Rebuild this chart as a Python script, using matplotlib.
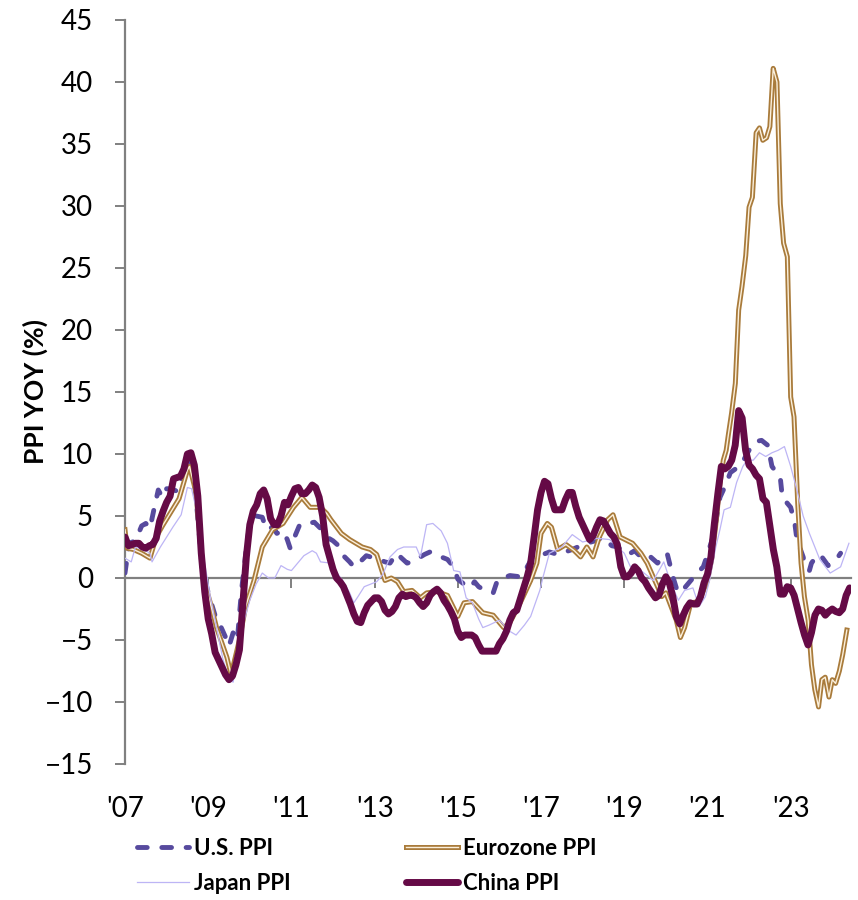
import numpy as np
import matplotlib
matplotlib.use("Agg")
import matplotlib.pyplot as plt
import matplotlib.patheffects as pe

plt.rcParams['font.family'] = ['Lato', 'DejaVu Sans']

# China PPI, monthly from Jan 2007
china_ppi = [
    3.3, 2.6, 2.7, 2.8, 2.8, 2.5, 2.4, 2.6, 2.7, 3.2, 4.6, 5.4,
    6.1, 6.6, 8.0, 8.1, 8.2, 8.8, 10.0, 10.1, 9.1, 6.6, 2.0, -1.1,
    -3.3, -4.5, -6.0, -6.6, -7.2, -7.8, -8.2, -7.9, -7.0, -5.8, -2.1, 1.7,
    4.3, 5.4, 5.9, 6.8, 7.1, 6.4, 4.8, 4.3, 4.3, 5.0, 6.1, 5.9,
    6.6, 7.2, 7.3, 6.8, 6.8, 7.1, 7.5, 7.3, 6.5, 5.0, 2.7, 1.7,
    0.7, 0.0, -0.3, -0.7, -1.4, -2.1, -2.9, -3.5, -3.6, -2.8, -2.2, -1.9,
    -1.6, -1.6, -1.9, -2.6, -2.9, -2.7, -2.3, -1.6, -1.3, -1.5, -1.4, -1.4,
    -1.6, -2.0, -2.3, -2.0, -1.4, -1.1, -0.9, -1.2, -1.8, -2.2, -2.7, -3.3,
    -4.3, -4.8, -4.6, -4.6, -4.6, -4.8, -5.4, -5.9, -5.9, -5.9, -5.9, -5.9,
    -5.3, -4.9, -4.3, -3.4, -2.8, -2.6, -1.7, -0.8, 0.1, 1.2, 3.3, 5.5,
    6.9, 7.8, 7.6, 6.4, 5.5, 5.5, 5.5, 6.3, 6.9, 6.9, 5.8, 4.9,
    4.3, 3.7, 3.1, 3.4, 4.1, 4.7, 4.6, 4.1, 3.6, 3.3, 2.7, 0.9,
    0.1, 0.1, 0.4, 0.9, 0.6, 0.0, -0.3, -0.8, -1.2, -1.6, -1.4, -0.5,
    0.1, -0.4, -1.5, -3.1, -3.7, -3.0, -2.4, -2.0, -2.1, -2.1, -1.5, -0.4,
    0.3, 1.7, 4.4, 6.8, 9.0, 8.8, 9.0, 9.5, 10.7, 13.5, 12.9, 10.3,
    9.1, 8.8, 8.3, 8.0, 6.4, 6.1, 4.2, 2.3, 0.9, -1.3, -1.3, -0.7,
    -0.8, -1.4, -2.5, -3.6, -4.6, -5.4, -4.4, -3.0, -2.5, -2.6, -3.0, -2.7,
    -2.5, -2.7, -2.8, -2.5, -1.4, -0.8,
]
china_t = [2007 + i / 12 for i in range(len(china_ppi))]

# U.S. PPI (decimal year, %)
us_t = [2007.0, 2007.1, 2007.25, 2007.4, 2007.5, 2007.6, 2007.7, 2007.8, 2007.9, 2008.0,
        2008.1, 2008.25, 2008.4, 2008.55, 2008.65, 2008.8, 2008.85, 2009.0, 2009.2, 2009.3,
        2009.42, 2009.5, 2009.6, 2009.7, 2009.8, 2009.85, 2009.92, 2010.0, 2010.15, 2010.3,
        2010.4, 2010.55, 2010.65, 2010.8, 2010.9, 2010.97, 2011.1, 2011.2, 2011.4, 2011.55,
        2011.7, 2011.85, 2012.0, 2012.1, 2012.25, 2012.4, 2012.5, 2012.65, 2012.8, 2013.0,
        2013.1, 2013.25, 2013.37, 2013.53, 2013.65, 2013.78, 2013.9, 2014.0, 2014.2, 2014.33,
        2014.5, 2014.6, 2014.75, 2014.9, 2015.0, 2015.15, 2015.3, 2015.4, 2015.5, 2015.65,
        2015.85, 2015.95, 2016.1, 2016.25, 2016.5, 2016.65, 2016.8, 2017.05, 2017.2, 2017.4,
        2017.5, 2017.75, 2017.95, 2018.1, 2018.3, 2018.5, 2018.7, 2018.85, 2019.0, 2019.1,
        2019.25, 2019.43, 2019.6, 2019.8, 2019.93, 2020.03, 2020.17, 2020.27, 2020.35, 2020.45,
        2020.6, 2020.75, 2020.9, 2021.0, 2021.15, 2021.3, 2021.45, 2021.55, 2021.8, 2021.9,
        2022.0, 2022.15, 2022.3, 2022.45, 2022.55, 2022.75, 2022.8, 2023.0, 2023.1, 2023.15,
        2023.3, 2023.35, 2023.45, 2023.5, 2023.65, 2023.75, 2023.9, 2024.1, 2024.2]
us_ppi = [0.4, 2.8, 3.0, 4.2, 4.4, 4.0, 5.6, 7.1, 6.5, 7.2,
          7.2, 7.0, 8.5, 9.6, 8.5, 3.0, 0.9, -1.2, -3.4, -3.9,
          -4.8, -5.5, -4.4, -5.0, -1.0, 0.4, 2.5, 4.4, 5.0, 4.9,
          3.9, 4.1, 3.6, 3.8, 3.1, 2.4, 3.5, 4.3, 4.4, 4.5,
          4.0, 3.3, 3.0, 2.7, 1.8, 1.3, 0.9, 1.3, 1.8, 1.6,
          1.5, 1.3, 1.2, 2.0, 1.6, 1.2, 1.3, 1.5, 1.9, 2.1,
          1.8, 1.7, 1.5, 0.9, -0.1, -0.5, -0.8, -0.3, -0.7, -1.0,
          -1.2, -0.2, 0.0, 0.2, 0.1, 0.8, 1.7, 1.9, 2.1, 1.9,
          2.0, 2.3, 2.6, 2.8, 3.0, 3.3, 2.6, 2.5, 2.0, 1.9,
          2.2, 1.6, 1.8, 1.2, 1.7, 2.0, 0.1, -1.0, -1.2, -0.8,
          -0.2, 0.4, 0.9, 1.9, 3.5, 6.5, 7.6, 8.5, 9.1, 9.7,
          10.3, 11.0, 11.1, 10.7, 9.0, 8.1, 6.5, 5.7, 4.4, 3.1,
          1.7, 0.9, 0.6, 1.2, 1.9, 1.7, 1.0, 1.5, 2.0]

# Japan PPI
japan_t = [2007.0, 2007.15, 2007.25, 2007.45, 2007.6, 2007.65, 2007.85, 2008.0, 2008.15, 2008.35,
           2008.5, 2008.6, 2008.75, 2008.9, 2009.05, 2009.2, 2009.35, 2009.5, 2009.6, 2009.75,
           2009.9, 2010.0, 2010.15, 2010.3, 2010.45, 2010.6, 2010.75, 2010.9, 2011.0, 2011.15,
           2011.3, 2011.5, 2011.6, 2011.7, 2011.95, 2012.1, 2012.25, 2012.4, 2012.5, 2012.6,
           2012.75, 2012.9, 2013.05, 2013.2, 2013.37, 2013.55, 2013.7, 2013.85, 2014.0, 2014.1,
           2014.25, 2014.4, 2014.6, 2014.75, 2014.9, 2015.05, 2015.2, 2015.35, 2015.5, 2015.6,
           2015.75, 2016.0, 2016.25, 2016.4, 2016.6, 2016.75, 2016.97, 2017.05, 2017.2, 2017.5,
           2017.75, 2018.0, 2018.35, 2018.65, 2018.8, 2019.0, 2019.15, 2019.4, 2019.7, 2019.95,
           2020.1, 2020.3, 2020.45, 2020.65, 2020.8, 2020.95, 2021.05, 2021.2, 2021.3, 2021.4,
           2021.55, 2021.7, 2021.85, 2021.95, 2022.1, 2022.25, 2022.4, 2022.55, 2022.7, 2022.85,
           2023.0, 2023.15, 2023.3, 2023.45, 2023.7, 2023.95, 2024.2, 2024.4]
japan_ppi = [1.6, 1.3, 2.5, 2.3, 2.0, 1.3, 2.5, 3.3, 4.1, 5.1,
             7.3, 7.2, 5.0, 1.5, -1.5, -4.0, -6.5, -8.2, -8.4, -5.0,
             -3.0, -1.8, -0.5, 0.4, 0.0, 0.0, 1.0, 0.7, 0.6, 1.2,
             1.8, 2.2, 2.0, 1.3, 1.2, 0.4, -0.3, -1.2, -2.0, -1.5,
             -0.7, -0.5, -0.3, 0.3, 1.7, 2.3, 2.5, 2.5, 2.5, 1.7,
             4.3, 4.4, 3.8, 2.8, 0.6, 0.5, -1.6, -2.0, -3.3, -4.0,
             -3.8, -3.4, -4.3, -4.6, -3.8, -3.1, -1.0, 0.1, 2.0, 2.5,
             3.5, 2.9, 3.2, 3.1, 2.6, 2.0, 0.9, 0.6, -0.2, 1.3,
             -0.2, -1.8, -1.0, -0.8, -2.3, -1.5, -0.2, 2.5, 3.9, 5.5,
             5.7, 7.7, 9.0, 9.5, 9.5, 10.1, 9.8, 10.1, 10.3, 10.6,
             9.0, 7.1, 5.0, 3.6, 1.5, 0.4, 0.9, 2.8]

# Eurozone PPI
euro_t = [2007.0, 2007.05, 2007.2, 2007.4, 2007.6, 2007.75, 2007.9, 2008.1, 2008.3, 2008.5,
          2008.55, 2008.7, 2008.9, 2009.05, 2009.2, 2009.45, 2009.55, 2009.75, 2009.9, 2010.1,
          2010.3, 2010.55, 2010.8, 2011.05, 2011.25, 2011.45, 2011.7, 2011.85, 2011.95, 2012.2,
          2012.4, 2012.55, 2012.7, 2012.9, 2013.05, 2013.25, 2013.4, 2013.55, 2013.7, 2013.9,
          2014.1, 2014.25, 2014.5, 2014.75, 2015.0, 2015.15, 2015.35, 2015.6, 2015.85, 2016.1,
          2016.25, 2016.5, 2016.75, 2016.9, 2017.0, 2017.15, 2017.25, 2017.4, 2017.6, 2017.8,
          2017.95, 2018.1, 2018.25, 2018.4, 2018.6, 2018.73, 2018.9, 2019.2, 2019.4, 2019.55,
          2019.8, 2019.9, 2020.0, 2020.25, 2020.35, 2020.45, 2020.6, 2020.8, 2021.0, 2021.1,
          2021.2, 2021.3, 2021.38, 2021.45, 2021.5, 2021.58, 2021.67, 2021.75, 2021.83, 2021.92,
          2022.0, 2022.08, 2022.17, 2022.25, 2022.33, 2022.42, 2022.5, 2022.58, 2022.67, 2022.75,
          2022.83, 2022.92, 2023.0, 2023.08, 2023.17, 2023.25, 2023.33, 2023.42, 2023.5, 2023.58,
          2023.67, 2023.75, 2023.83, 2023.92, 2024.0, 2024.08, 2024.17, 2024.25, 2024.35]
euro_ppi = [3.9, 2.4, 2.3, 2.0, 1.6, 3.3, 4.2, 5.3, 6.4, 8.7,
            9.0, 7.0, -0.2, -2.0, -4.0, -6.4, -7.8, -5.0, -2.3, -0.2,
            2.5, 3.9, 4.4, 5.7, 6.5, 5.7, 5.7, 5.2, 4.7, 3.6,
            3.1, 2.8, 2.5, 2.3, 1.9, -0.2, 0.0, -0.3, -1.1, -1.0,
            -1.6, -1.2, -1.1, -1.4, -3.1, -2.0, -1.9, -2.8, -3.0, -4.0,
            -3.6, -2.0, -0.2, 1.2, 3.6, 4.4, 4.1, 2.3, 2.7, 2.2,
            1.7, 2.5, 1.7, 3.3, 4.7, 5.1, 3.3, 2.8, 2.0, 1.2,
            -0.7, -1.5, -1.2, -3.4, -4.8, -4.0, -2.0, -1.9, -0.2, 1.5,
            4.3, 7.6, 9.5, 10.3, 11.5, 13.3, 15.7, 21.6, 23.5, 26.0,
            29.9, 30.7, 35.9, 36.3, 35.3, 35.5, 36.4, 41.1, 40.0, 30.2,
            27.0, 25.9, 14.6, 13.0, 6.0, 1.2, -1.5, -3.4, -7.0, -9.0,
            -10.4, -8.2, -8.0, -9.6, -8.2, -8.5, -7.5, -6.2, -4.2]

year_ticks = list(range(2007, 2024, 2))
year_labels = ["'" + str(y)[2:] for y in year_ticks]

fig = plt.figure(figsize=(8.58, 9.0), dpi=100)
ax = fig.add_axes([125 / 858, 136 / 900, 726 / 858, 744 / 900])

grey = '#808080'

l_us, = ax.plot(us_t, us_ppi, color='#574a9e', lw=3.5, dashes=(2.0, 3.0),
                dash_capstyle='round', label='U.S. PPI', zorder=3)
l_eu, = ax.plot(euro_t, euro_ppi, color='#fbf0dc', lw=1.0, label='Eurozone PPI', zorder=4,
                path_effects=[pe.Stroke(linewidth=3.6, foreground='#a97b3b'), pe.Normal()])
l_jp, = ax.plot(japan_t, japan_ppi, color='#bdb5f5', lw=0.9, label='Japan PPI', zorder=5)
l_cn, = ax.plot(china_t, china_ppi, color='#650a46', lw=5.0, solid_capstyle='round',
                solid_joinstyle='round', label='China PPI', zorder=6)

ax.set_xlim(2007, 2024.45)
ax.set_ylim(-15, 45)
ax.set_yticks(range(-15, 46, 5))
ax.set_xticks(year_ticks)
ax.set_xticklabels(year_labels)

for s in ['top', 'right']:
    ax.spines[s].set_visible(False)
ax.spines['bottom'].set_position(('data', 0))
for s in ['left', 'bottom']:
    ax.spines[s].set_color(grey)
    ax.spines[s].set_linewidth(1.6)

ax.tick_params(axis='y', direction='out', length=7, width=1.4, color=grey,
               labelsize=20, pad=16)
# x labels sit below the plot, ticks stay on the zero line
ax.tick_params(axis='x', direction='out', length=7, width=1.4, color=grey,
               labelsize=20, pad=150)

ax.set_ylabel('PPI YOY (%)', fontsize=19, fontweight='bold')
ax.yaxis.set_label_coords(-0.106, 0.5)

# legend fills by column, so order it to read row by row
handles = [l_us, l_jp, l_eu, l_cn]
fig.legend(handles, [h.get_label() for h in handles],
           loc='upper left', bbox_to_anchor=(137 / 858, 1 - 838 / 900), ncol=2,
           frameon=False, prop={'size': 16, 'weight': 'bold'}, handlelength=2.35,
           handletextpad=0.2, columnspacing=5.2, labelspacing=0.62,
           borderpad=0, borderaxespad=0)

fig.savefig('out.png', dpi=100)
